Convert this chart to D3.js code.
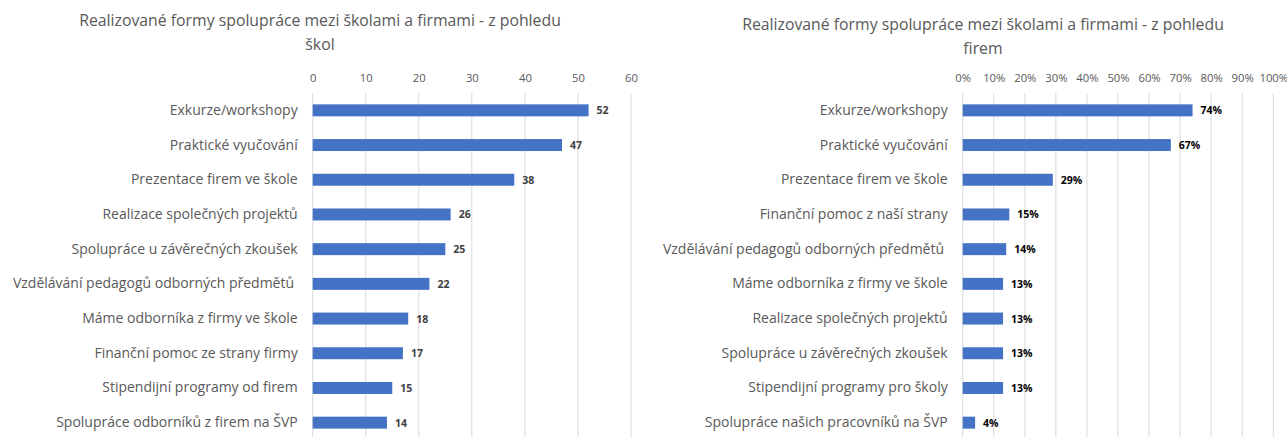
<!DOCTYPE html>
<html>
<head>
<meta charset="utf-8">
<script src="https://cdn.jsdelivr.net/npm/d3@7"></script>
<style>
  body { margin: 0; background: #fff; }
  svg { display: block; font-family: "Open Sans", "Noto Sans", sans-serif; }
</style>
</head>
<body>
<div id="chart"></div>
<script>
// data - left chart (schools, counts)
const schoolCategories = [
    "Exkurze/workshopy",
    "Praktické vyučování",
    "Prezentace firem ve škole",
    "Realizace společných projektů",
    "Spolupráce u závěrečných zkoušek",
    "Vzdělávání pedagogů odborných předmětů ",
    "Máme odborníka z firmy ve škole",
    "Finanční pomoc ze strany firmy",
    "Stipendijní programy od firem",
    "Spolupráce odborníků z firem na ŠVP"
];
const schoolValues = [52, 47, 38, 26, 25, 22, 18, 17, 15, 14];
const schoolTicks = [0, 10, 20, 30, 40, 50, 60];

// data - right chart (firms, shares)
const firmCategories = [
    "Exkurze/workshopy",
    "Praktické vyučování",
    "Prezentace firem ve škole",
    "Finanční pomoc z naší strany",
    "Vzdělávání pedagogů odborných předmětů ",
    "Máme odborníka z firmy ve škole",
    "Realizace společných projektů",
    "Spolupráce u závěrečných zkoušek",
    "Stipendijní programy pro školy",
    "Spolupráce našich pracovníků na ŠVP"
];
const firmValues = [0.74, 0.67, 0.29, 0.15, 0.14, 0.13, 0.13, 0.13, 0.13, 0.04];
const firmTicks = [0, 0.1, 0.2, 0.3, 0.4, 0.5, 0.6, 0.7, 0.8, 0.9, 1.0];

const W = 1287, H = 437;
const barColor = "#4472c4";

const svg = d3.select("#chart")
    .append("svg")
    .attr("width", W)
    .attr("height", H);

function drawChart(opts) {
    const g = svg.append("g");

    // scales
    const x = d3.scaleLinear()
        .domain(opts.domain)
        .range([opts.x0, opts.x1]);

    const y = d3.scaleBand()
        .domain(opts.categories)
        .range([93, 440])
        .paddingInner(0.655)
        .paddingOuter(0.3275);

    // title (two lines)
    opts.title.forEach((line, i) => {
        g.append("text")
            .attr("x", opts.titleX)
            .attr("y", opts.titleY + i * 23.5)
            .attr("text-anchor", "middle")
            .style("font-size", "15.8px")
            .style("fill", "#595959")
            .text(line);
    });

    // gridlines
    g.selectAll(".grid")
        .data(opts.ticks)
        .join("line")
        .attr("x1", d => x(d))
        .attr("x2", d => x(d))
        .attr("y1", 93)
        .attr("y2", 440)
        .attr("stroke", "#d9d9d9")
        .attr("stroke-width", 1);

    // top axis
    const axis = g.append("g")
        .attr("transform", "translate(0,93)")
        .call(d3.axisTop(x).tickValues(opts.ticks).tickFormat(opts.tickFormat).tickSize(0).tickPadding(11));
    axis.select(".domain").remove();
    axis.selectAll("text")
        .style("font-family", "\"Open Sans\", sans-serif")
        .style("font-size", "11.3px")
        .style("fill", "#595959");

    // category labels
    const yAxis = g.append("g")
        .attr("transform", `translate(${opts.x0},0)`)
        .call(d3.axisLeft(y).tickSize(0).tickPadding(15));
    yAxis.select(".domain").remove();
    yAxis.selectAll("text")
        .style("font-family", "\"Open Sans\", sans-serif")
        .style("font-size", "14px")
        .style("fill", "#595959")
        .style("white-space", "pre");

    // bars
    g.selectAll(".bar")
        .data(opts.categories)
        .join("rect")
        .attr("x", x(0))
        .attr("y", d => y(d))
        .attr("width", (d, i) => x(opts.values[i]) - x(0))
        .attr("height", y.bandwidth())
        .attr("fill", barColor);

    // value labels
    g.selectAll(".val")
        .data(opts.categories)
        .join("text")
        .attr("x", (d, i) => x(opts.values[i]) + 8)
        .attr("y", d => y(d) + y.bandwidth() / 2 + 4)
        .style("font-size", "10.5px")
        .style("font-weight", "bold")
        .style("fill", opts.valueColor)
        .text((d, i) => opts.valueFormat(opts.values[i]));
}

drawChart({
    categories: schoolCategories,
    values: schoolValues,
    ticks: schoolTicks,
    domain: [0, 60],
    x0: 312.7,
    x1: 631,
    title: ["Realizované formy spolupráce mezi školami a firmami - z pohledu", "škol"],
    titleX: 320,
    titleY: 26,
    tickFormat: d3.format("d"),
    valueFormat: d => d,
    valueColor: "#404040"
});

drawChart({
    categories: firmCategories,
    values: firmValues,
    ticks: firmTicks,
    domain: [0, 1],
    x0: 962.7,
    x1: 1273.3,
    title: ["Realizované formy spolupráce mezi školami a firmami - z pohledu", "firem"],
    titleX: 983,
    titleY: 30,
    tickFormat: d3.format(".0%"),
    valueFormat: d3.format(".0%"),
    valueColor: "#000000"
});
</script>
</body>
</html>
